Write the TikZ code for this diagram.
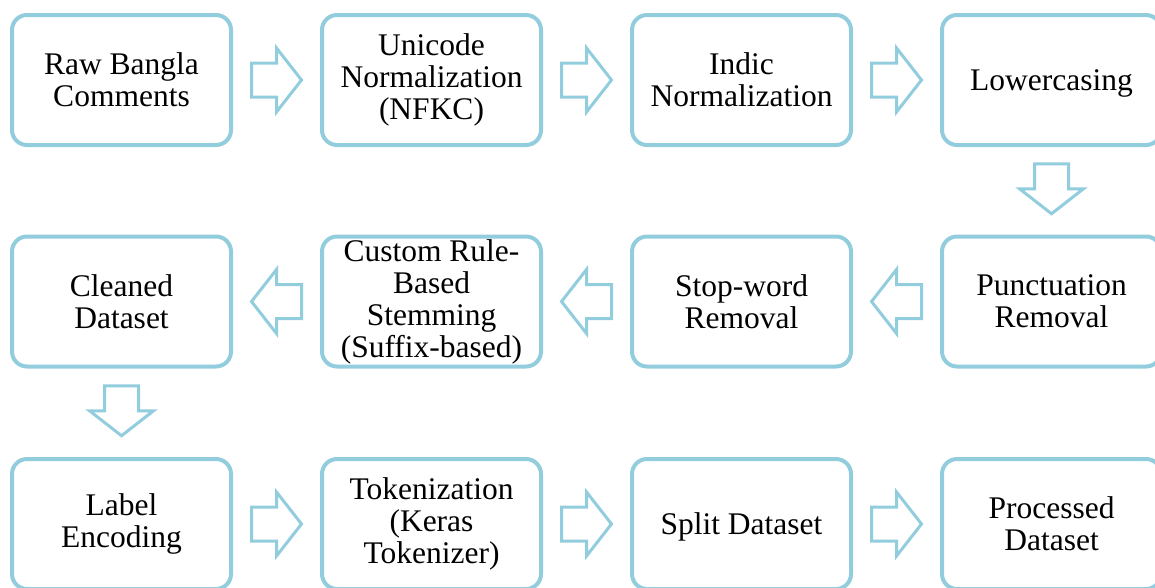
\documentclass[tikz,border=0pt]{standalone}
\usepackage{fontspec}
\setmainfont{Liberation Serif}
\usetikzlibrary{calc}
\definecolor{flowblue}{RGB}{146,205,222}
\tikzset{
  stage/.style={draw=flowblue, line width=4pt, rounded corners=15pt,
    minimum width=219pt, minimum height=130pt, align=center,
    inner sep=0pt, font=\fontsize{31.5}{32}\selectfont, text=black},
  oneline/.style={text depth=0pt},
  flow/.style={draw=flowblue, line width=3pt, line join=miter, fill=white},
}
% hollow block arrow centred on #1, turned by #2 degrees (0 = pointing right)
\newcommand\blockarrow[2]{%
  \draw[flow, shift={(#1)}, rotate=#2]
    (-25pt,-17pt) -- (0pt,-17pt) -- (0pt,-32pt) -- (25pt,0pt)
    -- (0pt,32pt) -- (0pt,17pt) -- (-25pt,17pt) -- cycle;}
\begin{document}
\begin{tikzpicture}[x=1pt, y=-1pt]
  \useasboundingbox (0,0) rectangle (1155,587);
  \clip (0,0) rectangle (1155,587);
  % first row
  \node[stage] (raw)   at (121.5,80) {Raw Bangla\\Comments};
  \node[stage] (uni)   at (431.5,80) {Unicode\\Normalization\\(NFKC)};
  \node[stage] (indic) at (741.5,80) {Indic\\Normalization};
  \node[stage, oneline] (lower) at (1051.5,80) {Lowercasing};
  % second row
  \node[stage] (clean) at (121.5,301.5) {Cleaned\\Dataset};
  \node[stage] (stem)  at (431.5,301.5) {Custom Rule-\\Based\\Stemming\\(Suffix-based)};
  \node[stage] (stop)  at (741.5,301.5) {Stop-word\\Removal};
  \node[stage] (punct) at (1051.5,301.5) {Punctuation\\Removal};
  % third row
  \node[stage] (label) at (121.5,524) {Label\\Encoding};
  \node[stage] (token) at (431.5,524) {Tokenization\\(Keras\\Tokenizer)};
  \node[stage, oneline] (split) at (741.5,524) {Split Dataset};
  \node[stage] (proc)  at (1051.5,524) {Processed\\Dataset};
  % connectors between stages
  \blockarrow{$(raw.east)!0.5!(uni.west)$}{0}
  \blockarrow{$(uni.east)!0.5!(indic.west)$}{0}
  \blockarrow{$(indic.east)!0.5!(lower.west)$}{0}
  \blockarrow{$(lower.south)!0.5!(punct.north)+(0,-2)$}{-90}
  \blockarrow{$(punct.west)!0.5!(stop.east)$}{180}
  \blockarrow{$(stop.west)!0.5!(stem.east)$}{180}
  \blockarrow{$(stem.west)!0.5!(clean.east)$}{180}
  \blockarrow{$(clean.south)!0.5!(label.north)+(0,-2)$}{-90}
  \blockarrow{$(label.east)!0.5!(token.west)$}{0}
  \blockarrow{$(token.east)!0.5!(split.west)$}{0}
  \blockarrow{$(split.east)!0.5!(proc.west)$}{0}
\end{tikzpicture}
\end{document}
